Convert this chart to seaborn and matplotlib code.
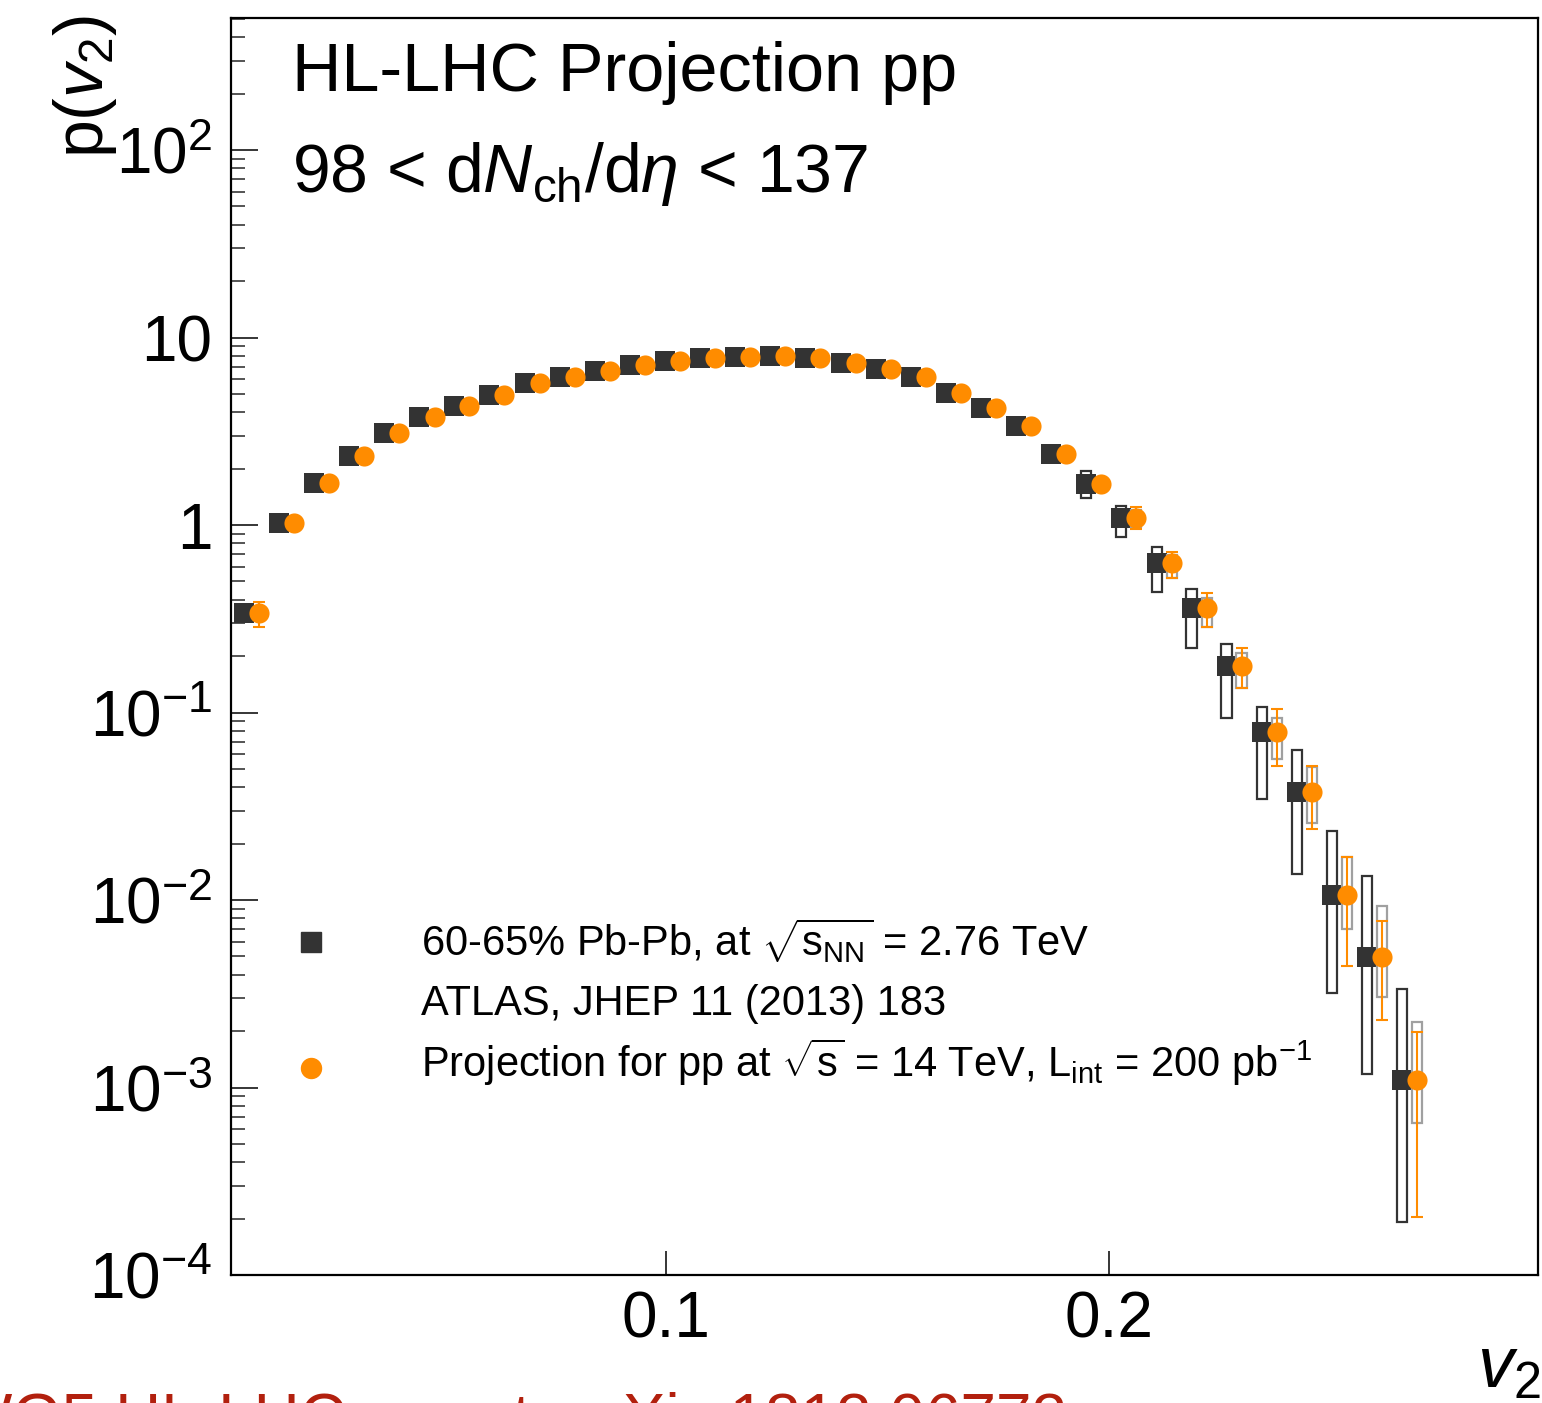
import numpy as np
import pandas as pd
import matplotlib
matplotlib.use("Agg")
import matplotlib.pyplot as plt
import seaborn as sns
from matplotlib.ticker import FixedLocator, FixedFormatter, NullFormatter, NullLocator

# ---------------- data ----------------
v2_centers = [0.0045, 0.0124, 0.0204, 0.0283, 0.0362, 0.0442, 0.0521, 0.0600,
              0.0680, 0.0759, 0.0838, 0.0918, 0.0997, 0.1076, 0.1156, 0.1235,
              0.1314, 0.1394, 0.1473, 0.1552, 0.1632, 0.1711, 0.1790, 0.1870,
              0.1949, 0.2028, 0.2108, 0.2187, 0.2266, 0.2346, 0.2425, 0.2504,
              0.2584, 0.2663]

pbpb_p = [0.34, 1.03, 1.67, 2.33, 3.10, 3.77, 4.31, 4.93, 5.71, 6.15, 6.62,
          7.13, 7.50, 7.78, 7.87, 7.96, 7.78, 7.31, 6.79, 6.15, 5.06, 4.21,
          3.37, 2.39, 1.66, 1.09, 0.63, 0.36, 0.177, 0.0787, 0.0377, 0.0106,
          0.00497, 0.0011]
pbpb_sys_lo = [0.325, 0.99, 1.61, 2.25, 3.00, 3.65, 4.18, 4.79, 5.55, 5.98, 6.44,
               6.94, 7.30, 7.57, 7.65, 7.74, 7.55, 7.08, 6.55, 5.90, 4.80, 3.96,
               3.13, 2.16, 1.40, 0.863, 0.44, 0.221, 0.0935, 0.0346, 0.01377,
               0.00319, 0.00118, 0.000192]
pbpb_sys_hi = [0.355, 1.07, 1.73, 2.41, 3.20, 3.89, 4.44, 5.07, 5.87, 6.32, 6.80,
               7.32, 7.70, 7.99, 8.09, 8.18, 8.01, 7.54, 7.03, 6.40, 5.32, 4.46,
               3.61, 2.62, 1.93, 1.26, 0.763, 0.456, 0.232, 0.107, 0.0631,
               0.0233, 0.01343, 0.00335]

proj_p = [0.34, 1.03, 1.67, 2.33, 3.10, 3.77, 4.31, 4.93, 5.71, 6.15, 6.62,
          7.13, 7.50, 7.78, 7.87, 7.96, 7.78, 7.31, 6.79, 6.15, 5.06, 4.21,
          3.37, 2.39, 1.66, 1.09, 0.63, 0.36, 0.177, 0.0787, 0.0377, 0.0106,
          0.00497, 0.0011]
proj_stat_lo = [0.286, 1.01, 1.64, 2.29, 3.05, 3.71, 4.25, 4.86, 5.63, 6.07, 6.54,
                7.05, 7.42, 7.70, 7.79, 7.88, 7.70, 7.23, 6.71, 6.07, 4.98, 4.13,
                3.28, 2.30, 1.57, 0.952, 0.521, 0.286, 0.135, 0.0519, 0.0239,
                0.00445, 0.00229, 0.000204]
proj_stat_hi = [0.388, 1.05, 1.70, 2.37, 3.15, 3.83, 4.37, 5.00, 5.79, 6.23, 6.70,
                7.21, 7.58, 7.86, 7.95, 8.04, 7.86, 7.39, 6.87, 6.23, 5.14, 4.29,
                3.46, 2.48, 1.75, 1.24, 0.718, 0.434, 0.221, 0.1044, 0.0519,
                0.01695, 0.00773, 0.00198]
proj_sys_lo = [0.33, 1.00, 1.62, 2.26, 3.01, 3.66, 4.18, 4.78, 5.54, 5.97, 6.42,
               6.92, 7.28, 7.55, 7.63, 7.72, 7.55, 7.09, 6.59, 5.97, 4.91, 4.08,
               3.24, 2.27, 1.55, 0.98, 0.52, 0.286, 0.135, 0.0565, 0.0257,
               0.0070, 0.00304, 0.000647]
proj_sys_hi = [0.35, 1.06, 1.72, 2.40, 3.19, 3.88, 4.44, 5.08, 5.88, 6.33, 6.82,
               7.34, 7.72, 8.01, 8.11, 8.20, 8.01, 7.53, 6.99, 6.33, 5.21, 4.34,
               3.50, 2.51, 1.77, 1.20, 0.69, 0.408, 0.208, 0.0935, 0.0512,
               0.01695, 0.00929, 0.00224]

ytick_values = [1e-4, 1e-3, 1e-2, 1e-1, 1, 10, 100]
ytick_labels = [r"$10^{-4}$", r"$10^{-3}$", r"$10^{-2}$", r"$10^{-1}$", "1", "10", r"$10^{2}$"]
xtick_values = [0.1, 0.2]
xtick_labels = ["0.1", "0.2"]

title_line1 = "HL-LHC Projection pp"
title_line2 = r"98 < d$N_{\rm ch}$/d$\eta$ < 137"
legend_pbpb = r"60-65% Pb-Pb, at $\sqrt{\mathrm{s}_{\rm NN}}$ = 2.76 TeV"
legend_ref = "ATLAS, JHEP 11 (2013) 183"
legend_proj = r"Projection for pp at $\sqrt{\mathrm{s}}$ = 14 TeV, L$_{\rm int}$ = 200 pb$^{-1}$"
footer = "WG5 HL-LHC report, arXiv:1812.06772"

# ---------------- style ----------------
sns.set_theme(style="ticks")
plt.rcParams["font.family"] = ["Liberation Sans", "DejaVu Sans"]
plt.rcParams["mathtext.fontset"] = "custom"
plt.rcParams["mathtext.rm"] = "Liberation Sans"
plt.rcParams["mathtext.it"] = "Liberation Sans:italic"
plt.rcParams["mathtext.bf"] = "Liberation Sans:bold"
plt.rcParams["mathtext.sf"] = "Liberation Sans"
plt.rcParams["axes.unicode_minus"] = True

W, H = 1542, 1403
DARK = "#333333"
ORANGE = "#ff8c00"
GRAY = "#a0a0a0"
proj_offset = 0.0034
box_w = 0.0023
marker_s = 210

fig = plt.figure(figsize=(W / 100, H / 100), dpi=100)
fig.patch.set_facecolor("white")
ax = fig.add_axes([231 / W, 1 - 1275 / H, (1538 - 231) / W, (1275 - 18) / H])
ax.set_facecolor("white")

df_pbpb = pd.DataFrame({"v2": v2_centers, "p": pbpb_p,
                        "lo": pbpb_sys_lo, "hi": pbpb_sys_hi})
df_proj = pd.DataFrame({"v2": np.array(v2_centers) + proj_offset, "p": proj_p,
                        "slo": proj_stat_lo, "shi": proj_stat_hi,
                        "lo": proj_sys_lo, "hi": proj_sys_hi})

ax.set_yscale("log")

# Pb-Pb systematic boxes
ax.bar(df_pbpb["v2"], df_pbpb["hi"] - df_pbpb["lo"], bottom=df_pbpb["lo"],
       width=box_w, fill=False, edgecolor=DARK, linewidth=1.6, zorder=2)
# Pb-Pb points
sns.scatterplot(data=df_pbpb, x="v2", y="p", marker="s", s=marker_s,
                color=DARK, linewidth=0, ax=ax, zorder=3, legend=False)
# projection systematic boxes
ax.bar(df_proj["v2"], df_proj["hi"] - df_proj["lo"], bottom=df_proj["lo"],
       width=box_w, fill=False, edgecolor=GRAY, linewidth=1.6, zorder=4)
# projection statistical error bars
ax.errorbar(df_proj["v2"], df_proj["p"],
            yerr=[df_proj["p"] - df_proj["slo"], df_proj["shi"] - df_proj["p"]],
            fmt="none", ecolor=ORANGE, elinewidth=1.5, capsize=4, capthick=1.5,
            zorder=5)
# projection points
sns.scatterplot(data=df_proj, x="v2", y="p", marker="o", s=marker_s,
                color=ORANGE, linewidth=0, ax=ax, zorder=6, legend=False)

ax.set_xlim(0.0016, 0.297)
ax.set_ylim(1e-4, 10 ** 2.704)

# ticks
ax.yaxis.set_major_locator(FixedLocator(ytick_values))
ax.yaxis.set_major_formatter(FixedFormatter(ytick_labels))
minor = [m * 10.0 ** e for e in range(-4, 3) for m in range(2, 10)]
ax.yaxis.set_minor_locator(FixedLocator(minor))
ax.yaxis.set_minor_formatter(NullFormatter())
ax.xaxis.set_major_locator(FixedLocator(xtick_values))
ax.xaxis.set_major_formatter(FixedFormatter(xtick_labels))
ax.xaxis.set_minor_locator(NullLocator())

ax.tick_params(axis="y", which="major", direction="in", length=19.5, width=1.1,
               left=True, right=False, labelsize=46, pad=13.5, colors="black")
ax.tick_params(axis="y", which="minor", direction="in", length=10, width=1.1,
               left=True, right=False)
ax.tick_params(axis="x", which="major", direction="in", length=17, width=1.1,
               bottom=True, top=False, labelsize=46, pad=11, colors="black")
for sp in ax.spines.values():
    sp.set_visible(True)
    sp.set_color("black")
    sp.set_linewidth(1.6)

ax.set_xlabel("")
ax.set_ylabel("")

# axis titles
fig.text(85 / W, 1 - 15 / H, r"p($v_{2}$)", rotation=90, ha="center", va="top",
         fontsize=49, color="black")
fig.text(1541 / W, 1 - 1388 / H, r"$v_{2}$", ha="right", va="baseline",
         fontsize=52, color="black")

# header texts
fig.text(292 / W, 1 - 91 / H, title_line1, ha="left", va="baseline",
         fontsize=49.2, color="black")
fig.text(292 / W, 1 - 192 / H, title_line2, ha="left", va="baseline",
         fontsize=49, color="black")

# legend (markers drawn in axes space)
lx_mark = (311 - 231) / (1538 - 231)
def ay(py):
    return (1275 - py) / (1275 - 18)
ax.plot([lx_mark], [ay(942)], marker="s", markersize=14.4, color=DARK,
        linestyle="none", transform=ax.transAxes, zorder=7)
ax.plot([lx_mark], [ay(1068)], marker="o", markersize=14.4, color=ORANGE,
        linestyle="none", transform=ax.transAxes, zorder=7)
fs_leg = 30
fig.text(421 / W, 1 - 956 / H, legend_pbpb, ha="left", va="baseline",
         fontsize=fs_leg, color="black")
fig.text(421 / W, 1 - 1015 / H, legend_ref, ha="left", va="baseline",
         fontsize=fs_leg, color="black")
fig.text(421 / W, 1 - 1077 / H, legend_proj, ha="left", va="baseline",
         fontsize=fs_leg, color="black")

# footer (mostly cut by the bottom edge, as in the reference)
fig.text(1067 / W, -36 / H, footer, ha="right", va="baseline",
         fontsize=46, color="#b2200e")

fig.savefig("out.png", dpi=100)
